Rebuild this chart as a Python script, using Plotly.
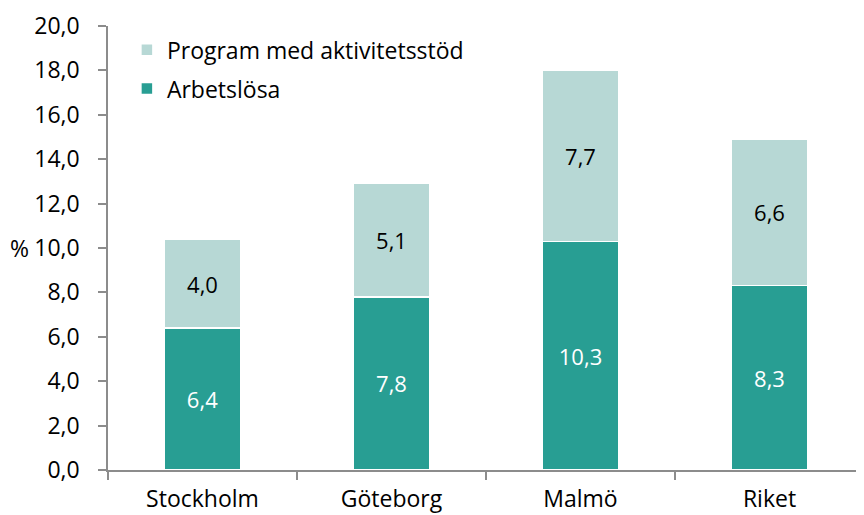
import plotly.graph_objects as go

categories = ["Stockholm", "Göteborg", "Malmö", "Riket"]
arbetslosa = [6.4, 7.8, 10.3, 8.3]
program = [4.0, 5.1, 7.7, 6.6]
y_ticks = [0, 2, 4, 6, 8, 10, 12, 14, 16, 18, 20]

FONT = "Open Sans"
SIZE = 23
dark = "#289e93"
light = "#b7d8d5"

fig = go.Figure()
fig.add_trace(go.Bar(
    x=categories, y=arbetslosa, name="Arbetslösa", legendgroup="a", legendrank=2,
    marker=dict(color=dark, line=dict(color="white", width=1.5)),
    text=[f"{v:.1f}".replace(".", ",") for v in arbetslosa],
    textposition="inside", insidetextanchor="middle",
    textfont=dict(color="white", size=22, family=FONT),
))
fig.add_trace(go.Bar(
    x=categories, y=program, name="Program med aktivitetsstöd", legendgroup="b", legendrank=1,
    marker=dict(color=light, line=dict(color="white", width=1.5)),
    text=[f"{v:.1f}".replace(".", ",") for v in program],
    textposition="inside", insidetextanchor="middle",
    textfont=dict(color="black", size=22, family=FONT),
))

fig.update_layout(
    barmode="stack", bargap=0.6,
    width=864, height=515,
    margin=dict(l=100, r=8, t=18, b=53),
    plot_bgcolor="white", paper_bgcolor="white",
    separators=",.",
    font=dict(family=FONT, size=SIZE, color="black"),
    showlegend=True,
    legend=dict(x=0.025, y=0.995, xanchor="left", yanchor="top",
                traceorder="grouped", font=dict(size=SIZE, family=FONT),
                bgcolor="rgba(0,0,0,0)", itemwidth=30, tracegroupgap=6),
    uniformtext=dict(mode=False),
)
fig.update_yaxes(
    range=[0, 20], tickvals=y_ticks, tickformat=".1f", automargin=False,
    showgrid=False, showline=True, linecolor="#8c8c8c", linewidth=1.5,
    ticks="outside", ticklen=8, tickcolor="#8c8c8c", tickwidth=1.5,
    ticklabelstandoff=14,
    tickfont=dict(size=23, family=FONT), zeroline=False,
)
fig.update_xaxes(
    automargin=False,
    showgrid=False, showline=True, linecolor="#8c8c8c", linewidth=1.5,
    ticks="outside", tickson="boundaries", ticklen=8, tickcolor="#8c8c8c", tickwidth=1.5,
    ticklabelstandoff=8,
    tickfont=dict(size=SIZE, family=FONT),
)
fig.add_annotation(text="%", xref="paper", yref="paper", x=-0.132, y=0.5,
                   showarrow=False, xanchor="left", yanchor="middle",
                   font=dict(size=SIZE, family=FONT))

fig.write_html("out.html")
